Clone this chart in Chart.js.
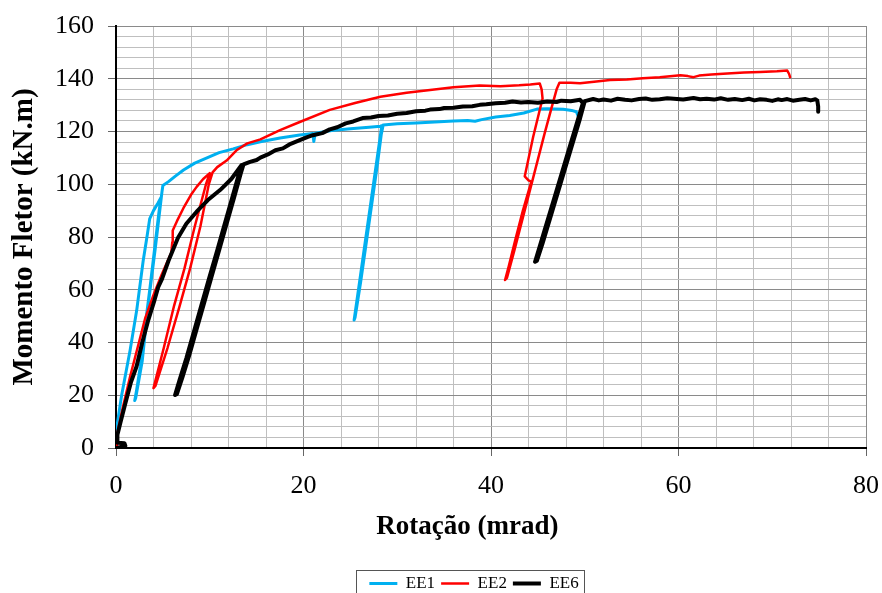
<!DOCTYPE html>
<html>
<head>
<meta charset="utf-8">
<script src="https://cdn.jsdelivr.net/npm/chart.js@4.4.1/dist/chart.umd.min.js"></script>
<style>
  html, body { margin: 0; padding: 0; background: #fff; overflow: hidden; }
  #wrap { width: 882px; height: 602px; }
</style>
</head>
<body>
<div id="wrap"><canvas id="chart" width="882" height="602"></canvas></div>
<script>
// rotation (mrad) / bending moment (kN.m)
const ee1Rot = [
  0, 0.05, 0.6, 1.5, 2.2, 2.9, 3.3, 3.6, 4.0, 4.5, 4.8,
  4.6, 4.1, 3.6, 3.1, 2.6, 2.2, 2.0,
  2.1, 2.8, 3.3, 3.7, 4.2, 4.7, 4.9, 5.0,
  5.6, 6.3, 7.2, 8.4, 9.7, 11.0, 12.5, 14.0, 15.4, 17.5, 19.6, 21.0, 21.1, 21.25, 23.0, 25.0, 27.0, 28.2, 28.35,
  27.7, 27.1, 26.5, 25.9, 25.4,
  25.5, 26.1, 26.7, 27.3, 27.9, 28.3, 28.5,
  30.0, 32.0, 34.0, 36.0, 37.5, 38.3, 39.0, 40.5, 42.0, 43.5, 44.9, 46.0, 47.7, 48.6, 49.1, 49.3
];
const ee1Mom = [
  0, 7, 20, 37, 52, 71, 80, 87, 90, 93, 95,
  90, 75, 60, 46, 31, 22, 18,
  19, 33, 50, 62, 76, 91, 97, 99.5,
  101, 103, 105.4, 108, 110, 112, 113.4, 115, 116.1, 117.5, 118.7, 119.2, 116.2, 119.3, 120.4, 121, 121.6, 122, 122.2,
  106, 91, 76, 61, 48.5,
  49.5, 63, 78, 93, 108, 119, 122.5,
  122.9, 123.2, 123.6, 124, 124.2, 123.9, 124.5, 125.5, 126.1, 127.0, 128.5, 128.6, 128.4, 128.0, 127.5, 125.8
];

const ee2Rot = [
  0, 0.1, 0.7, 1.5, 2.3, 3.1, 4.0, 4.9, 5.9, 6.0, 6.05, 6.5, 7.2, 8.0, 8.6, 9.3, 10.0,
  9.6, 8.4, 7.3, 6.2, 5.1, 4.0,
  4.2, 5.5, 6.8, 7.9, 9.0, 9.9, 10.3,
  10.8, 11.8, 12.9, 14.0, 15.4, 17.5, 19.6, 22.8, 25.5, 28.2, 31.0, 33.5, 36.0, 38.8, 41.0, 43.0, 44.2, 45.2,
  45.4, 45.5, 44.5, 43.6, 44.0, 44.3, 43.4, 42.6, 41.9, 41.5,
  41.7, 42.5, 43.3, 44.1, 44.9, 45.7, 46.5, 47.0, 47.3,
  48.5, 49.5, 51.0, 52.7, 54.5, 56.2, 58.0, 60.2, 61.0, 61.6, 62.2, 63.5, 65.2, 67.0, 68.7, 70.5, 71.6, 71.8, 71.9
];
const ee2Mom = [
  0, 5, 15, 27, 38, 49, 58, 66, 74, 78, 82.5, 86, 91, 96, 99, 102, 104.2,
  100, 84, 68, 54, 38, 22.7,
  23.5, 38, 54, 68, 84, 100, 104.5,
  106.5, 109, 113, 115.5, 117, 120.5, 123.6, 128.2, 130.8, 133.2, 134.7, 135.7, 136.8, 137.4, 137.2, 137.5, 137.8, 138.2,
  136, 132.5, 118, 103, 101.5, 101, 90, 79, 69, 63.7,
  64.5, 75, 86, 97, 108, 119, 129.5, 136, 138.5,
  138.5, 138.3, 138.9, 139.5, 139.7, 140.2, 140.6, 141.3, 141, 140.6, 141.2, 141.6, 142.0, 142.4, 142.6, 142.8, 143.1, 141.8, 140.6
];

const ee6Rot = [
  0, 1.0, 0.9, 0.2, 0.15, 0.5, 1.0, 1.6, 2.2, 2.8, 3.4, 4.1, 4.5, 4.9, 5.6, 6.6, 7.5, 8.6, 9.8, 11.1, 12.3, 13.4,
  13.2, 12.4, 11.6, 10.8, 9.9, 9.1, 8.3, 7.5, 6.8, 6.3,
  6.5, 7.1, 7.8, 8.6, 9.4, 10.2, 11.0, 11.8, 12.6, 13.3, 13.6,
  14.3, 15.0, 15.4, 16.2, 17.0, 17.8, 18.5, 19.6, 20.4, 21.0, 22.0, 22.8, 23.6, 24.5, 25.3, 26.3, 27.2, 28.0, 29.0, 30.0,
  31.0, 32.0, 33.0, 33.5, 34.5, 35.0, 36.0, 37.0, 38.0, 38.8, 39.5, 40.5, 41.5, 42.3, 43.2, 44.0, 45.0, 46.0, 47.0, 47.5,
  48.5, 49.5,
  49.8, 49.0, 48.2, 47.4, 46.6, 45.8, 45.2, 44.7,
  44.9, 45.5, 46.3, 47.1, 47.9, 48.7, 49.5, 50.0,
  50.9, 51.5, 52.0, 52.8, 53.5, 54.3, 55.0, 55.8, 56.5, 57.2, 58.0, 58.8, 59.5, 60.5, 61.6, 62.3, 63.0, 63.8, 64.5, 65.3,
  66.0, 66.8, 67.5, 68.1, 68.7, 69.4, 70.0, 70.6, 71.0, 71.6, 72.2, 72.9, 73.5, 74.1, 74.6, 74.8, 74.9, 74.9
];
const ee6Mom = [
  0, 0.8, 1.8, 2, 5, 10, 17, 25, 31, 40, 48, 56, 61, 64, 71, 79.6, 85, 89.6, 94, 97.8, 102, 107.3,
  105, 95, 85, 75, 64, 54, 44, 34, 26, 20.1,
  20.5, 27, 35, 45, 55, 65, 75, 85, 95, 104, 107.5,
  108.5, 109.2, 110.1, 111.3, 112.9, 113.6, 115.1, 116.7, 117.9, 118.6, 119.4, 120.8, 121.6, 123.1, 123.8, 125.1, 125.3, 125.9, 126.1, 126.7,
  127.0, 127.7, 127.9, 128.3, 128.5, 128.9, 129.0, 129.5, 129.6, 130.1, 130.3, 130.7, 130.9, 131.4, 131.0, 131.2, 130.9, 131.4, 131.2, 131.7,
  131.5, 132,
  130.8, 121.3, 111.9, 102.4, 93, 83.6, 76.5, 70.6,
  71, 77.6, 87, 96.5, 106, 115.5, 125, 131.5,
  132.3, 131.8, 132.1, 131.7, 132.4, 132.0, 131.8, 132.3, 132.5, 132.0, 132.2, 132.6, 132.4, 132.1, 132.7, 132.2, 132.4, 132.1, 132.6, 132.0,
  132.3, 131.9, 132.4, 131.8, 132.2, 132.0, 131.6, 132.2, 131.9, 132.3, 131.7, 132.0, 132.3, 131.8, 132.2, 131.8, 129.5, 127.5
];

const seriesNames = ['EE1', 'EE2', 'EE6'];
const seriesColors = ['#00b0f0', '#ff0000', '#000000'];
const xTicks = [0, 20, 40, 60, 80];
const yTicks = [0, 20, 40, 60, 80, 100, 120, 140, 160];

const toPoints = (xs, ys) => xs.map((x, i) => ({ x: x, y: ys[i] }));

const serif = 'Liberation Serif, Times New Roman, serif';
const majorGrid = '#8a8a8a';
const minorGrid = '#bfbfbf';

// nudge the legend under the plot like the original, then frame it
const legendShift = {
  id: 'legendShift',
  afterLayout(chart) {
    chart.legend.left += 41;
    chart.legend.right += 41;
  }
};

const legendBox = {
  id: 'legendBox',
  afterDraw(chart) {
    const boxes = chart.legend.legendHitBoxes;
    if (!boxes || !boxes.length) return;
    const left = Math.min(...boxes.map(b => b.left)) - 13;
    const right = Math.max(...boxes.map(b => b.left + b.width)) + 6;
    const top = chart.legend.top + 1;
    const ctx = chart.ctx;
    ctx.save();
    ctx.strokeStyle = '#555';
    ctx.lineWidth = 1;
    ctx.strokeRect(Math.round(left) + 0.5, Math.round(top) + 0.5, Math.round(right - left), 40);
    ctx.restore();
  }
};

const data = {
  datasets: [
    { label: seriesNames[0], data: toPoints(ee1Rot, ee1Mom), borderColor: seriesColors[0], backgroundColor: seriesColors[0], borderWidth: 3, order: 3 },
    { label: seriesNames[1], data: toPoints(ee2Rot, ee2Mom), borderColor: seriesColors[1], backgroundColor: seriesColors[1], borderWidth: 2.5, order: 2 },
    { label: seriesNames[2], data: toPoints(ee6Rot, ee6Mom), borderColor: seriesColors[2], backgroundColor: seriesColors[2], borderWidth: 4, order: 1 }
  ]
};

const gridColor = (c) => (c.tick && c.tick.value % 20 === 0) ? majorGrid : minorGrid;
const tickMarkColor = (c) => (c.tick && c.tick.value % 20 === 0) ? '#666' : 'rgba(0,0,0,0)';

const options = {
  responsive: false,
  animation: false,
  layout: { padding: { left: 0, right: 16, top: 26, bottom: 0 } },
  elements: {
    point: { radius: 0 },
    line: { tension: 0, borderJoinStyle: 'round', borderCapStyle: 'round' }
  },
  plugins: {
    tooltip: { enabled: false },
    legend: {
      position: 'bottom',
      labels: {
        usePointStyle: true,
        pointStyle: 'line',
        pointStyleWidth: 28,
        padding: 6,
        color: '#000',
        font: { family: serif, size: 17 },
        sort: (a, b) => a.datasetIndex - b.datasetIndex
      }
    }
  },
  scales: {
    x: {
      type: 'linear',
      min: 0,
      max: 80,
      afterFit: (s) => { s.height = 121; s.paddingLeft = 0; s.paddingRight = 0; },
      border: { color: '#000', width: 2 },
      grid: { color: gridColor, tickColor: tickMarkColor, tickLength: 8, lineWidth: 1 },
      ticks: {
        stepSize: 4,
        autoSkip: false,
        maxRotation: 0,
        padding: 15,
        color: '#000',
        font: { family: serif, size: 26 },
        callback: (v) => xTicks.includes(v) ? String(v) : ''
      },
      title: {
        display: true,
        text: 'Rotação (mrad)\u00A0\u00A0\u00A0\u00A0\u00A0\u00A0\u00A0',
        color: '#000',
        font: { family: serif, size: 27, weight: 'bold' },
        padding: { top: 4, bottom: 26 }
      }
    },
    y: {
      type: 'linear',
      min: 0,
      max: 160,
      afterFit: (s) => { s.width = 116; s.paddingTop = 0; s.paddingBottom = 0; },
      border: { color: '#000', width: 2 },
      grid: { color: gridColor, tickColor: tickMarkColor, tickLength: 8, lineWidth: 1 },
      ticks: {
        stepSize: 4,
        autoSkip: false,
        padding: 14,
        color: '#000',
        font: { family: serif, size: 26 },
        callback: (v) => yTicks.includes(v) ? String(v) : ''
      },
      title: {
        display: true,
        text: 'Momento Fletor (kN.m)',
        color: '#000',
        font: { family: serif, size: 29, weight: 'bold' },
        padding: { top: 7, bottom: 0 }
      }
    }
  }
};

new Chart(document.getElementById('chart').getContext('2d'), {
  type: 'line',
  data: data,
  options: options,
  plugins: [legendShift, legendBox]
});
</script>
</body>
</html>
